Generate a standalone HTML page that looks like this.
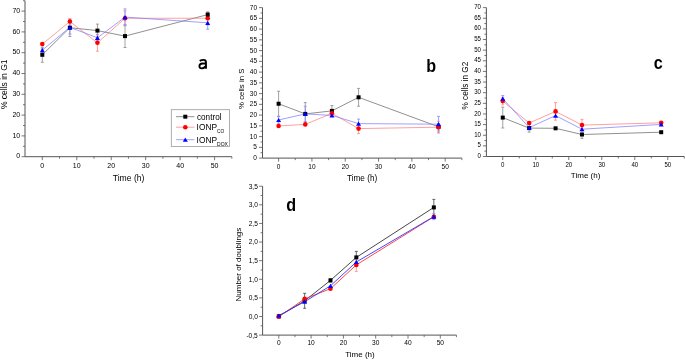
<!DOCTYPE html><html><head><meta charset="utf-8"><style>html,body{margin:0;padding:0;background:#fff;width:685px;height:360px;overflow:hidden}svg{display:block}text{font-family:"Liberation Sans",sans-serif;fill:#000}</style></head><body>
<svg style="will-change:transform" width="685" height="360" viewBox="0 0 685 360">
<rect width="685" height="360" fill="#fff"/>
<path d="M25 0.7V156.7H231.83" fill="none" stroke="#555" stroke-width="1"/>
<path d="M21.5 156.7H25M21.5 135.9H25M21.5 115.1H25M21.5 94.3H25M21.5 73.5H25M21.5 52.7H25M21.5 31.9H25M21.5 11.1H25M23 146.3H25M23 125.5H25M23 104.7H25M23 83.9H25M23 63.1H25M23 42.3H25M23 21.5H25M23 0.7H25M42.3 156.7V160.2M76.76 156.7V160.2M111.22 156.7V160.2M145.68 156.7V160.2M180.14 156.7V160.2M214.6 156.7V160.2M59.53 156.7V158.7M93.99 156.7V158.7M128.45 156.7V158.7M162.91 156.7V158.7M197.37 156.7V158.7M231.83 156.7V158.7" fill="none" stroke="#555" stroke-width="0.8"/>
<text transform="translate(20.2 158.3) scale(1.0 1)" font-size="7" text-anchor="end">0</text>
<text transform="translate(20.2 137.5) scale(1.0 1)" font-size="7" text-anchor="end">10</text>
<text transform="translate(20.2 116.7) scale(1.0 1)" font-size="7" text-anchor="end">20</text>
<text transform="translate(20.2 95.9) scale(1.0 1)" font-size="7" text-anchor="end">30</text>
<text transform="translate(20.2 75.1) scale(1.0 1)" font-size="7" text-anchor="end">40</text>
<text transform="translate(20.2 54.3) scale(1.0 1)" font-size="7" text-anchor="end">50</text>
<text transform="translate(20.2 33.5) scale(1.0 1)" font-size="7" text-anchor="end">60</text>
<text transform="translate(20.2 12.7) scale(1.0 1)" font-size="7" text-anchor="end">70</text>
<text transform="translate(42.3 167.8) scale(1.0 1)" font-size="7" text-anchor="middle">0</text>
<text transform="translate(76.76 167.8) scale(1.0 1)" font-size="7" text-anchor="middle">10</text>
<text transform="translate(111.22 167.8) scale(1.0 1)" font-size="7" text-anchor="middle">20</text>
<text transform="translate(145.68 167.8) scale(1.0 1)" font-size="7" text-anchor="middle">30</text>
<text transform="translate(180.14 167.8) scale(1.0 1)" font-size="7" text-anchor="middle">40</text>
<text transform="translate(214.6 167.8) scale(1.0 1)" font-size="7" text-anchor="middle">50</text>
<text x="128.6" y="181" font-size="8.6" text-anchor="middle">Time (h)</text>
<text transform="translate(7.2 84.3) rotate(-90)" font-size="8.5" text-anchor="middle">% cells in G1</text>
<polyline points="42.3,54.8 69.87,27.7 97.44,30.6 125,36.1 207.71,14.6" fill="none" stroke="#606060" stroke-width="0.7"/>
<path d="M42.3 47.3V62.3M40.8 47.3H43.8M40.8 62.3H43.8M69.87 18.9V36.5M68.37 18.9H71.37M68.37 36.5H71.37M97.44 24.1V37.1M95.94 24.1H98.94M95.94 37.1H98.94M125 24.7V47.5M123.5 24.7H126.5M123.5 47.5H126.5M207.71 12.6V16.6M206.21 12.6H209.21M206.21 16.6H209.21" fill="none" stroke="#8a8a8a" stroke-width="0.8"/>
<polyline points="42.3,44.1 69.87,21.5 97.44,42.8 125,18.3 207.71,18.2" fill="none" stroke="#ff7777" stroke-width="0.7"/>
<path d="M69.87 19V24M68.37 19H71.37M68.37 24H71.37M97.44 34.4V51.2M95.94 34.4H98.94M95.94 51.2H98.94M125 10.8V25.8M123.5 10.8H126.5M123.5 25.8H126.5M207.71 11.5V24.9M206.21 11.5H209.21M206.21 24.9H209.21" fill="none" stroke="#ff8888" stroke-width="0.8"/>
<polyline points="42.3,50.2 69.87,27.3 97.44,37.8 125,17.1 207.71,22.8" fill="none" stroke="#7777ff" stroke-width="0.7"/>
<path d="M42.3 48.2V52.2M40.8 48.2H43.8M40.8 52.2H43.8M69.87 20.5V34.1M68.37 20.5H71.37M68.37 34.1H71.37M97.44 34.8V40.8M95.94 34.8H98.94M95.94 40.8H98.94M125 8.9V25.3M123.5 8.9H126.5M123.5 25.3H126.5M207.71 16.4V29.2M206.21 16.4H209.21M206.21 29.2H209.21" fill="none" stroke="#8888ff" stroke-width="0.8"/>
<g fill="none" stroke="#000" stroke-width="1.85"><path d="M199.7 60.8C201.1 60.1 202.5 59.9 203.6 59.9C205.2 59.9 206 60.8 206 62.4V68.7"/><path d="M206 63.5H202.6C200.4 63.5 199.4 64.7 199.4 66.2C199.4 67.7 200.4 68.3 201.8 68.3C203.6 68.3 205 67.3 206 65.9"/></g>
<circle cx="42.3" cy="44.1" r="2.3" fill="#ff0000"/>
<circle cx="69.87" cy="21.5" r="2.3" fill="#ff0000"/>
<circle cx="97.44" cy="42.8" r="2.3" fill="#ff0000"/>
<circle cx="125" cy="18.3" r="2.3" fill="#ff0000"/>
<circle cx="207.71" cy="18.2" r="2.3" fill="#ff0000"/>
<rect x="40.3" y="52.8" width="4" height="4" fill="#000"/>
<rect x="67.87" y="25.7" width="4" height="4" fill="#000"/>
<rect x="95.44" y="28.6" width="4" height="4" fill="#000"/>
<rect x="123" y="34.1" width="4" height="4" fill="#000"/>
<rect x="205.71" y="12.6" width="4" height="4" fill="#000"/>
<path d="M42.3 48.1L44.8 52.3H39.8Z" fill="#0000ff"/>
<path d="M69.87 25.2L72.37 29.4H67.37Z" fill="#0000ff"/>
<path d="M97.44 35.7L99.94 39.9H94.94Z" fill="#0000ff"/>
<path d="M125 15L127.5 19.2H122.5Z" fill="#0000ff"/>
<path d="M207.71 20.7L210.21 24.9H205.21Z" fill="#0000ff"/>
<rect x="171.3" y="109.7" width="58.3" height="36.7" fill="#fff" stroke="#999" stroke-width="0.8"/>
<path d="M176 116.7H194.4" stroke="#606060" stroke-width="0.7"/>
<rect x="183.3" y="114.7" width="4" height="4" fill="#000"/>
<path d="M176 127.2H194.4" stroke="#ff7777" stroke-width="0.7"/>
<circle cx="185.3" cy="127.2" r="2.3" fill="#ff0000"/>
<path d="M176 139.7H194.4" stroke="#7777ff" stroke-width="0.7"/>
<path d="M185.3 137.6L187.8 141.8H182.8Z" fill="#0000ff"/>
<text transform="translate(197 119.6) scale(0.95 1)" font-size="8.6">control</text>
<text x="196.6" y="129.8" font-size="8.4">IONP</text><text x="217.1" y="133" font-size="4.8">CO</text>
<text x="196.6" y="142.5" font-size="8.4">IONP</text><text x="217.1" y="145.5" font-size="5">DOX</text>
<path d="M262.5 7.6V158.1H461.86" fill="none" stroke="#555" stroke-width="1"/>
<path d="M259 158.1H262.5M259 147.35H262.5M259 136.6H262.5M259 125.85H262.5M259 115.1H262.5M259 104.35H262.5M259 93.6H262.5M259 82.85H262.5M259 72.1H262.5M259 61.35H262.5M259 50.6H262.5M259 39.85H262.5M259 29.1H262.5M259 18.35H262.5M259 7.6H262.5M260.5 152.72H262.5M260.5 141.97H262.5M260.5 131.22H262.5M260.5 120.47H262.5M260.5 109.72H262.5M260.5 98.97H262.5M260.5 88.22H262.5M260.5 77.47H262.5M260.5 66.72H262.5M260.5 55.97H262.5M260.5 45.22H262.5M260.5 34.47H262.5M260.5 23.72H262.5M260.5 12.97H262.5M278.6 158.1V161.6M311.92 158.1V161.6M345.24 158.1V161.6M378.56 158.1V161.6M411.88 158.1V161.6M445.2 158.1V161.6M295.26 158.1V160.1M328.58 158.1V160.1M361.9 158.1V160.1M395.22 158.1V160.1M428.54 158.1V160.1M461.86 158.1V160.1" fill="none" stroke="#555" stroke-width="0.8"/>
<text transform="translate(257 160) scale(0.93 1)" font-size="7" text-anchor="end">0</text>
<text transform="translate(257 149.25) scale(0.93 1)" font-size="7" text-anchor="end">5</text>
<text transform="translate(257 138.5) scale(0.93 1)" font-size="7" text-anchor="end">10</text>
<text transform="translate(257 127.75) scale(0.93 1)" font-size="7" text-anchor="end">15</text>
<text transform="translate(257 117) scale(0.93 1)" font-size="7" text-anchor="end">20</text>
<text transform="translate(257 106.25) scale(0.93 1)" font-size="7" text-anchor="end">25</text>
<text transform="translate(257 95.5) scale(0.93 1)" font-size="7" text-anchor="end">30</text>
<text transform="translate(257 84.75) scale(0.93 1)" font-size="7" text-anchor="end">35</text>
<text transform="translate(257 74) scale(0.93 1)" font-size="7" text-anchor="end">40</text>
<text transform="translate(257 63.25) scale(0.93 1)" font-size="7" text-anchor="end">45</text>
<text transform="translate(257 52.5) scale(0.93 1)" font-size="7" text-anchor="end">50</text>
<text transform="translate(257 41.75) scale(0.93 1)" font-size="7" text-anchor="end">55</text>
<text transform="translate(257 31) scale(0.93 1)" font-size="7" text-anchor="end">60</text>
<text transform="translate(257 20.25) scale(0.93 1)" font-size="7" text-anchor="end">65</text>
<text transform="translate(257 9.5) scale(0.93 1)" font-size="7" text-anchor="end">70</text>
<text transform="translate(278.6 169) scale(0.93 1)" font-size="7" text-anchor="middle">0</text>
<text transform="translate(311.92 169) scale(0.93 1)" font-size="7" text-anchor="middle">10</text>
<text transform="translate(345.24 169) scale(0.93 1)" font-size="7" text-anchor="middle">20</text>
<text transform="translate(378.56 169) scale(0.93 1)" font-size="7" text-anchor="middle">30</text>
<text transform="translate(411.88 169) scale(0.93 1)" font-size="7" text-anchor="middle">40</text>
<text transform="translate(445.2 169) scale(0.93 1)" font-size="7" text-anchor="middle">50</text>
<text x="362.1" y="181.2" font-size="8.2" text-anchor="middle">Time (h)</text>
<text transform="translate(244.1 88.8) rotate(-90)" font-size="7.8" text-anchor="middle">% cells in S</text>
<polyline points="278.6,103.75 305.26,113.9 331.91,110.9 358.57,97.3 438.54,126.8" fill="none" stroke="#606060" stroke-width="0.7"/>
<path d="M278.6 91.25V116.25M277.1 91.25H280.1M277.1 116.25H280.1M305.26 102.6V125.2M303.76 102.6H306.76M303.76 125.2H306.76M331.91 105.6V116.2M330.41 105.6H333.41M330.41 116.2H333.41M358.57 88.4V106.2M357.07 88.4H360.07M357.07 106.2H360.07M438.54 123.5V130.1M437.04 123.5H440.04M437.04 130.1H440.04" fill="none" stroke="#8a8a8a" stroke-width="0.8"/>
<polyline points="278.6,126 305.26,124.4 331.91,113.3 358.57,128.6 438.54,127.2" fill="none" stroke="#ff7777" stroke-width="0.7"/>
<path d="M358.57 123.6V133.6M357.07 123.6H360.07M357.07 133.6H360.07M438.54 121.3V133.1M437.04 121.3H440.04M437.04 133.1H440.04" fill="none" stroke="#ff8888" stroke-width="0.8"/>
<polyline points="278.6,120 305.26,113.9 331.91,115.4 358.57,123.6 438.54,124.2" fill="none" stroke="#7777ff" stroke-width="0.7"/>
<path d="M278.6 116.7V123.3M277.1 116.7H280.1M277.1 123.3H280.1M305.26 106.3V121.5M303.76 106.3H306.76M303.76 121.5H306.76M358.57 119.1V128.1M357.07 119.1H360.07M357.07 128.1H360.07M438.54 116.4V132M437.04 116.4H440.04M437.04 132H440.04" fill="none" stroke="#8888ff" stroke-width="0.8"/>
<rect x="276.6" y="101.75" width="4" height="4" fill="#000"/>
<rect x="303.26" y="111.9" width="4" height="4" fill="#000"/>
<rect x="329.91" y="108.9" width="4" height="4" fill="#000"/>
<rect x="356.57" y="95.3" width="4" height="4" fill="#000"/>
<rect x="436.54" y="124.8" width="4" height="4" fill="#000"/>
<circle cx="278.6" cy="126" r="2.3" fill="#ff0000"/>
<circle cx="305.26" cy="124.4" r="2.3" fill="#ff0000"/>
<circle cx="331.91" cy="113.3" r="2.3" fill="#ff0000"/>
<circle cx="358.57" cy="128.6" r="2.3" fill="#ff0000"/>
<circle cx="438.54" cy="127.2" r="2.3" fill="#ff0000"/>
<path d="M278.6 117.9L281.1 122.1H276.1Z" fill="#0000ff"/>
<path d="M305.26 111.8L307.76 116H302.76Z" fill="#0000ff"/>
<path d="M331.91 113.3L334.41 117.5H329.41Z" fill="#0000ff"/>
<path d="M358.57 121.5L361.07 125.7H356.07Z" fill="#0000ff"/>
<path d="M438.54 122.1L441.04 126.3H436.04Z" fill="#0000ff"/>
<text transform="translate(426.2 71.8) scale(0.85 1)" font-size="19" font-weight="bold" style="fill:#000">b</text>
<path d="M486.4 7.61V156.5H684.31" fill="none" stroke="#555" stroke-width="1"/>
<path d="M482.9 156.5H486.4M482.9 145.87H486.4M482.9 135.23H486.4M482.9 124.59H486.4M482.9 113.96H486.4M482.9 103.33H486.4M482.9 92.69H486.4M482.9 82.06H486.4M482.9 71.42H486.4M482.9 60.79H486.4M482.9 50.15H486.4M482.9 39.52H486.4M482.9 28.88H486.4M482.9 18.25H486.4M482.9 7.61H486.4M484.4 151.18H486.4M484.4 140.55H486.4M484.4 129.91H486.4M484.4 119.28H486.4M484.4 108.64H486.4M484.4 98.01H486.4M484.4 87.37H486.4M484.4 76.74H486.4M484.4 66.1H486.4M484.4 55.47H486.4M484.4 44.83H486.4M484.4 34.2H486.4M484.4 23.56H486.4M484.4 12.93H486.4M502.75 156.5V160M535.76 156.5V160M568.77 156.5V160M601.78 156.5V160M634.79 156.5V160M667.8 156.5V160M519.25 156.5V158.5M552.26 156.5V158.5M585.27 156.5V158.5M618.28 156.5V158.5M651.3 156.5V158.5M684.31 156.5V158.5" fill="none" stroke="#555" stroke-width="0.8"/>
<text transform="translate(480.9 158.1) scale(0.87 1)" font-size="7" text-anchor="end">0</text>
<text transform="translate(480.9 147.47) scale(0.87 1)" font-size="7" text-anchor="end">5</text>
<text transform="translate(480.9 136.83) scale(0.87 1)" font-size="7" text-anchor="end">10</text>
<text transform="translate(480.9 126.19) scale(0.87 1)" font-size="7" text-anchor="end">15</text>
<text transform="translate(480.9 115.56) scale(0.87 1)" font-size="7" text-anchor="end">20</text>
<text transform="translate(480.9 104.92) scale(0.87 1)" font-size="7" text-anchor="end">25</text>
<text transform="translate(480.9 94.29) scale(0.87 1)" font-size="7" text-anchor="end">30</text>
<text transform="translate(480.9 83.66) scale(0.87 1)" font-size="7" text-anchor="end">35</text>
<text transform="translate(480.9 73.02) scale(0.87 1)" font-size="7" text-anchor="end">40</text>
<text transform="translate(480.9 62.39) scale(0.87 1)" font-size="7" text-anchor="end">45</text>
<text transform="translate(480.9 51.75) scale(0.87 1)" font-size="7" text-anchor="end">50</text>
<text transform="translate(480.9 41.12) scale(0.87 1)" font-size="7" text-anchor="end">55</text>
<text transform="translate(480.9 30.48) scale(0.87 1)" font-size="7" text-anchor="end">60</text>
<text transform="translate(480.9 19.85) scale(0.87 1)" font-size="7" text-anchor="end">65</text>
<text transform="translate(480.9 9.21) scale(0.87 1)" font-size="7" text-anchor="end">70</text>
<text transform="translate(502.75 166.9) scale(0.87 1)" font-size="7" text-anchor="middle">0</text>
<text transform="translate(535.76 166.9) scale(0.87 1)" font-size="7" text-anchor="middle">10</text>
<text transform="translate(568.77 166.9) scale(0.87 1)" font-size="7" text-anchor="middle">20</text>
<text transform="translate(601.78 166.9) scale(0.87 1)" font-size="7" text-anchor="middle">30</text>
<text transform="translate(634.79 166.9) scale(0.87 1)" font-size="7" text-anchor="middle">40</text>
<text transform="translate(667.8 166.9) scale(0.87 1)" font-size="7" text-anchor="middle">50</text>
<text x="585.6" y="178.3" font-size="8" text-anchor="middle">Time (h)</text>
<text transform="translate(468 85.6) rotate(-90)" font-size="8.2" text-anchor="middle">% cells in G2</text>
<polyline points="502.75,117.6 529.16,128.1 555.57,128.3 581.97,134.5 661.2,132.2" fill="none" stroke="#606060" stroke-width="0.7"/>
<path d="M502.75 107.2V128M501.25 107.2H504.25M501.25 128H504.25M529.16 124.1V132.1M527.66 124.1H530.66M527.66 132.1H530.66M581.97 130.6V138.4M580.47 130.6H583.47M580.47 138.4H583.47" fill="none" stroke="#8a8a8a" stroke-width="0.8"/>
<polyline points="502.75,101.1 529.16,123 555.57,111.4 581.97,125.1 661.2,122.8" fill="none" stroke="#ff7777" stroke-width="0.7"/>
<path d="M502.75 97.3V104.9M501.25 97.3H504.25M501.25 104.9H504.25M555.57 102.6V120.2M554.07 102.6H557.07M554.07 120.2H557.07M581.97 119.4V130.8M580.47 119.4H583.47M580.47 130.8H583.47" fill="none" stroke="#ff8888" stroke-width="0.8"/>
<polyline points="502.75,98.6 529.16,127.6 555.57,115.6 581.97,129.2 661.2,124.4" fill="none" stroke="#7777ff" stroke-width="0.7"/>
<path d="M502.75 95.5V101.7M501.25 95.5H504.25M501.25 101.7H504.25" fill="none" stroke="#8888ff" stroke-width="0.8"/>
<circle cx="502.75" cy="101.1" r="2.3" fill="#ff0000"/>
<circle cx="529.16" cy="123" r="2.3" fill="#ff0000"/>
<circle cx="555.57" cy="111.4" r="2.3" fill="#ff0000"/>
<circle cx="581.97" cy="125.1" r="2.3" fill="#ff0000"/>
<circle cx="661.2" cy="122.8" r="2.3" fill="#ff0000"/>
<rect x="500.75" y="115.6" width="4" height="4" fill="#000"/>
<rect x="527.16" y="126.1" width="4" height="4" fill="#000"/>
<rect x="553.57" y="126.3" width="4" height="4" fill="#000"/>
<rect x="579.97" y="132.5" width="4" height="4" fill="#000"/>
<rect x="659.2" y="130.2" width="4" height="4" fill="#000"/>
<path d="M502.75 96.5L505.25 100.7H500.25Z" fill="#0000ff"/>
<path d="M529.16 125.5L531.66 129.7H526.66Z" fill="#0000ff"/>
<path d="M555.57 113.5L558.07 117.7H553.07Z" fill="#0000ff"/>
<path d="M581.97 127.1L584.47 131.3H579.47Z" fill="#0000ff"/>
<path d="M661.2 122.3L663.7 126.5H658.7Z" fill="#0000ff"/>
<text transform="translate(653.8 69) scale(0.85 1)" font-size="19" font-weight="bold" style="fill:#000">c</text>
<path d="M262.6 186.21V335.1H456.45" fill="none" stroke="#555" stroke-width="1"/>
<path d="M259.1 335.11H262.6M259.1 316.5H262.6M259.1 297.89H262.6M259.1 279.27H262.6M259.1 260.66H262.6M259.1 242.05H262.6M259.1 223.44H262.6M259.1 204.82H262.6M259.1 186.21H262.6M260.6 325.81H262.6M260.6 307.19H262.6M260.6 288.58H262.6M260.6 269.97H262.6M260.6 251.36H262.6M260.6 232.74H262.6M260.6 214.13H262.6M260.6 195.52H262.6M278.8 335.1V338.6M311.1 335.1V338.6M343.4 335.1V338.6M375.7 335.1V338.6M408 335.1V338.6M440.3 335.1V338.6M294.95 335.1V337.1M327.25 335.1V337.1M359.55 335.1V337.1M391.85 335.1V337.1M424.15 335.1V337.1M456.45 335.1V337.1" fill="none" stroke="#555" stroke-width="0.8"/>
<text transform="translate(257.8 337.51) scale(1.0 1)" font-size="6.6" text-anchor="end">-0,5</text>
<text transform="translate(257.8 318.9) scale(1.0 1)" font-size="6.6" text-anchor="end">0,0</text>
<text transform="translate(257.8 300.29) scale(1.0 1)" font-size="6.6" text-anchor="end">0,5</text>
<text transform="translate(257.8 281.67) scale(1.0 1)" font-size="6.6" text-anchor="end">1,0</text>
<text transform="translate(257.8 263.06) scale(1.0 1)" font-size="6.6" text-anchor="end">1,5</text>
<text transform="translate(257.8 244.45) scale(1.0 1)" font-size="6.6" text-anchor="end">2,0</text>
<text transform="translate(257.8 225.84) scale(1.0 1)" font-size="6.6" text-anchor="end">2,5</text>
<text transform="translate(257.8 207.22) scale(1.0 1)" font-size="6.6" text-anchor="end">3,0</text>
<text transform="translate(257.8 188.61) scale(1.0 1)" font-size="6.6" text-anchor="end">3,5</text>
<text transform="translate(278.8 345.4) scale(1.0 1)" font-size="6.6" text-anchor="middle">0</text>
<text transform="translate(311.1 345.4) scale(1.0 1)" font-size="6.6" text-anchor="middle">10</text>
<text transform="translate(343.4 345.4) scale(1.0 1)" font-size="6.6" text-anchor="middle">20</text>
<text transform="translate(375.7 345.4) scale(1.0 1)" font-size="6.6" text-anchor="middle">30</text>
<text transform="translate(408 345.4) scale(1.0 1)" font-size="6.6" text-anchor="middle">40</text>
<text transform="translate(440.3 345.4) scale(1.0 1)" font-size="6.6" text-anchor="middle">50</text>
<text x="360" y="356.6" font-size="8" text-anchor="middle">Time (h)</text>
<text transform="translate(240.7 264.6) rotate(-90)" font-size="8" text-anchor="middle">Number of doublings</text>
<polyline points="278.8,316.3 304.64,300.8 330.48,280.4 356.32,257.4 433.84,207.4" fill="none" stroke="#333" stroke-width="0.9"/>
<path d="M304.64 293.3V308.3M303.14 293.3H306.14M303.14 308.3H306.14M330.48 278.9V281.9M328.98 278.9H331.98M328.98 281.9H331.98M356.32 251.4V263.4M354.82 251.4H357.82M354.82 263.4H357.82M433.84 199.4V215.4M432.34 199.4H435.34M432.34 215.4H435.34" fill="none" stroke="#444" stroke-width="0.8"/>
<polyline points="278.8,316.7 304.64,298.9 330.48,288.7 356.32,264.9 433.84,216.8" fill="none" stroke="#ff3333" stroke-width="0.9"/>
<path d="M356.32 258.4V271.4M354.82 258.4H357.82M354.82 271.4H357.82" fill="none" stroke="#ff8888" stroke-width="0.8"/>
<polyline points="278.8,315.5 304.64,301.7 330.48,285.8 356.32,262 433.84,216.6" fill="none" stroke="#3333ff" stroke-width="0.9"/>
<path d="M433.84 213.6V219.6M432.34 213.6H435.34M432.34 219.6H435.34" fill="none" stroke="#8888ff" stroke-width="0.8"/>
<rect x="276.8" y="314.3" width="4" height="4" fill="#000"/>
<rect x="302.64" y="298.8" width="4" height="4" fill="#000"/>
<rect x="328.48" y="278.4" width="4" height="4" fill="#000"/>
<rect x="354.32" y="255.4" width="4" height="4" fill="#000"/>
<rect x="431.84" y="205.4" width="4" height="4" fill="#000"/>
<circle cx="278.8" cy="316.7" r="2.3" fill="#ff0000"/>
<circle cx="304.64" cy="298.9" r="2.3" fill="#ff0000"/>
<circle cx="330.48" cy="288.7" r="2.3" fill="#ff0000"/>
<circle cx="356.32" cy="264.9" r="2.3" fill="#ff0000"/>
<circle cx="433.84" cy="216.8" r="2.3" fill="#ff0000"/>
<path d="M278.8 313.4L281.3 317.6H276.3Z" fill="#0000ff"/>
<path d="M304.64 299.6L307.14 303.8H302.14Z" fill="#0000ff"/>
<path d="M330.48 283.7L332.98 287.9H327.98Z" fill="#0000ff"/>
<path d="M356.32 259.9L358.82 264.1H353.82Z" fill="#0000ff"/>
<path d="M433.84 214.5L436.34 218.7H431.34Z" fill="#0000ff"/>
<text transform="translate(286.2 210.8) scale(0.85 1)" font-size="19" font-weight="bold" style="fill:#000">d</text>
</svg></body></html>
